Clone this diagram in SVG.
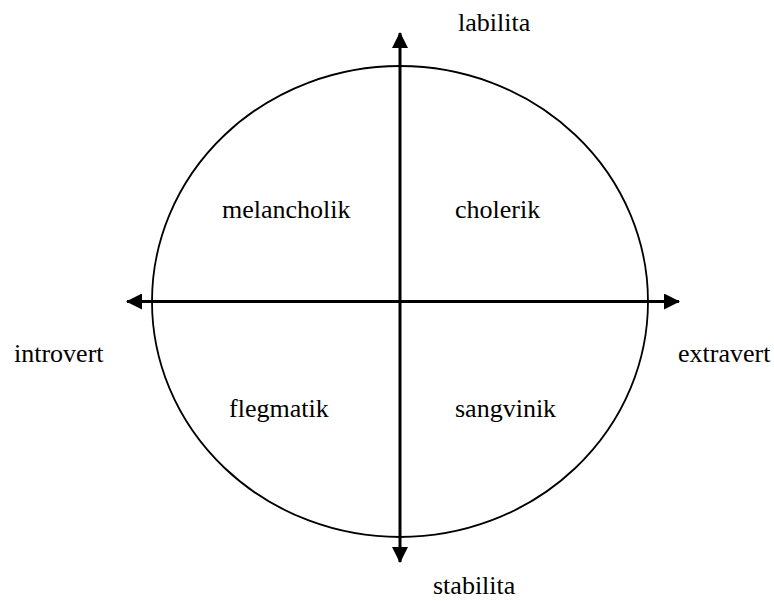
<svg xmlns="http://www.w3.org/2000/svg" width="774" height="601" viewBox="0 0 774 601">
<style>
text{font-family:"Liberation Serif","Times New Roman",serif;font-size:26px;fill:#000}
.ax{stroke:#000;stroke-width:3;fill:none}
</style>
<defs>
<marker id="ah" markerUnits="userSpaceOnUse" markerWidth="16" markerHeight="16" refX="15" refY="8" orient="auto" viewBox="0 0 16 16">
<path d="M0,0 L16,8 L0,16 Z" fill="#000"/>
</marker>
</defs>
<rect width="774" height="601" fill="#fff"/>
<g id="circle">
<ellipse cx="400" cy="301.5" rx="248" ry="235.5" fill="none" stroke="#000" stroke-width="1.8"/>
</g>
<g id="connectors">
<line class="ax" x1="400" y1="301.5" x2="400" y2="33" marker-end="url(#ah)"/>
<line class="ax" x1="400" y1="301.5" x2="400" y2="562" marker-end="url(#ah)"/>
<line class="ax" x1="400" y1="301.5" x2="127" y2="301.5" marker-end="url(#ah)"/>
<line class="ax" x1="400" y1="301.5" x2="679" y2="301.5" marker-end="url(#ah)"/>
</g>
<g id="labilita"><text x="458" y="31">labilita</text></g>
<g id="stabilita"><text x="433" y="594">stabilita</text></g>
<g id="introvert"><text x="14" y="362">introvert</text></g>
<g id="extravert"><text x="678" y="362">extravert</text></g>
<g id="melancholik"><text x="222" y="218">melancholik</text></g>
<g id="cholerik"><text x="455" y="218">cholerik</text></g>
<g id="flegmatik"><text x="229" y="417">flegmatik</text></g>
<g id="sangvinik"><text x="455" y="417">sangvinik</text></g>
</svg>
